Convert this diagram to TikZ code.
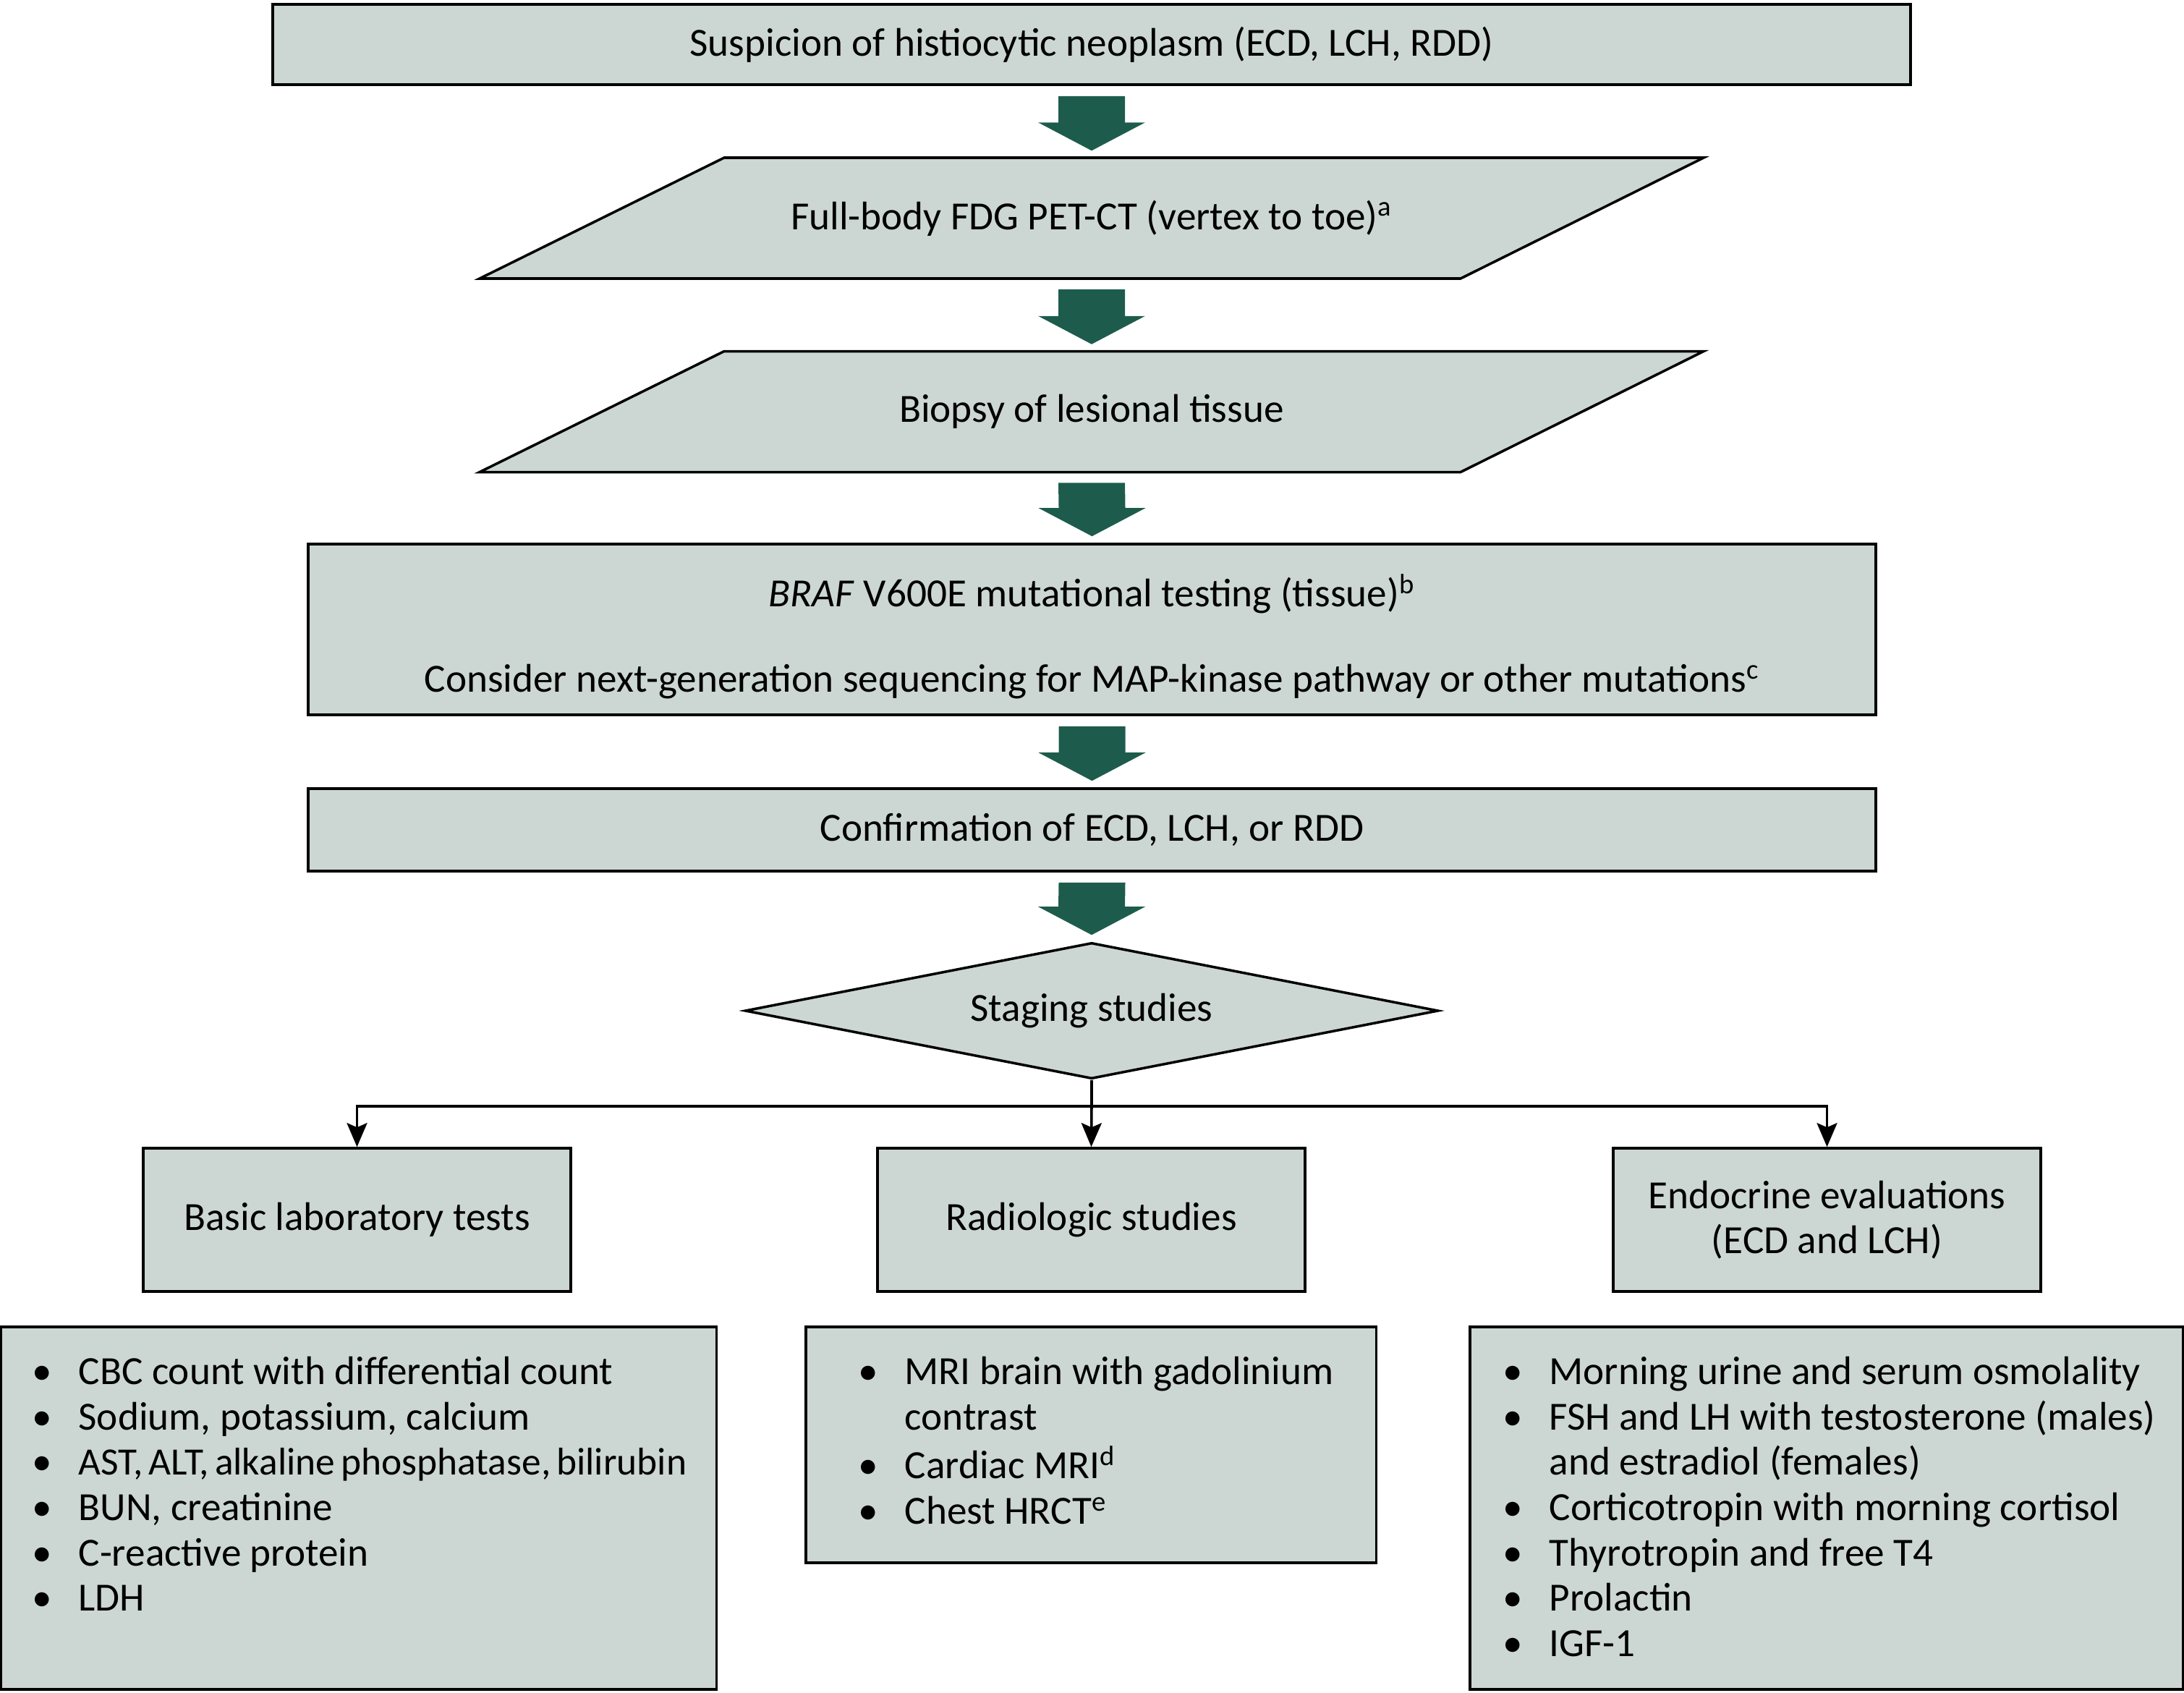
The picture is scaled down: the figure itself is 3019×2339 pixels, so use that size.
\documentclass[tikz,border=0pt]{standalone}
\usepackage{fontspec}
\setmainfont{Carlito}
\usetikzlibrary{positioning, shapes.geometric, arrows.meta, calc}
\definecolor{boxColor}{RGB}{204,215,211}
\definecolor{arrowColor}{RGB}{29,92,76}
\tikzstyle{chart} = [x = 0.01cm, y = -0.01cm, every node/.style={font=\fontsize{15.7}{17.8}\selectfont}]
\tikzstyle{boxLine} = [draw=black, fill=boxColor, line width=1pt]
\tikzstyle{stepBox} = [boxLine, rectangle, inner sep=0pt, align=center]
\tikzstyle{stageDiamond} = [boxLine, diamond, aspect=5, inner sep=0pt, minimum width=9.58cm, minimum height=1.88cm]
\tikzstyle{listText} = [anchor=north west, inner sep=0pt, align=left]
\tikzstyle{connector} = [line width=1pt, black]
\tikzstyle{connectorArrow} = [connector, -{Stealth[length=0.33cm, width=0.28cm, inset=0.06cm]}]
\tikzstyle{bigArrowStyle} = [fill=arrowColor]
\newcommand{\listItem}[1]{\strut\makebox[0.64cm][l]{\textbullet}#1}
\newcommand{\listMore}[1]{\strut\hspace*{0.64cm}#1}
% block arrow from one node down to the next
\newcommand{\bigArrow}[2]{\fill [bigArrowStyle] ($(#1.south) + (-46, 14)$) -- ($(#1.south) + (46, 14)$) -- ($(#2.north) + (46, -48)$) -- ($(#2.north) + (74, -48)$) -- ($(#2.north) + (0, -9)$) -- ($(#2.north) + (-74, -48)$) -- ($(#2.north) + (-46, -48)$) -- cycle;}
% slanted box with a named node in its middle
\newcommand{\slantBox}[4]{
  \filldraw [boxLine] (#2 - 846, #3 + 83.5) -- (#2 + 510, #3 + 83.5) -- (#2 + 846, #3 - 83.5) -- (#2 - 508, #3 - 83.5) -- cycle;
  \node [inner sep=0pt, minimum width=13.56cm, minimum height=1.67cm] (#1) at (#2, #3) {#4};
}
\begin{document}
\begin{tikzpicture}[chart]
  \useasboundingbox (0,0) rectangle (3019,2339);
  \node [stepBox, minimum width=22.63cm, minimum height=1.11cm] (suspicion) at (1509, 61.5) {Suspicion of histiocytic neoplasm (ECD, LCH, RDD)};
  \slantBox{fullBody}{1509}{301.5}{Full-body FDG PET-CT (vertex to toe)\textsuperscript{a}}
  \slantBox{biopsy}{1509}{569}{Biopsy of lesional tissue}
  \node [stepBox, minimum width=21.66cm, minimum height=2.36cm] (brafTest) at (1509.5, 870) {\rule{0pt}{18.5pt}\textit{BRAF} V600E mutational testing (tissue)\textsuperscript{b}\\[15.8pt] Consider next-generation sequencing for MAP-kinase pathway or other mutations\textsuperscript{c}};
  \node [stepBox, minimum width=21.66cm, minimum height=1.14cm] (confirm) at (1509.5, 1147) {Confirmation of ECD, LCH, or RDD};
  \node [stageDiamond] (staging) at (1509, 1397) {Staging studies};
  \coordinate (split) at (1509, 1529);

  \node [stepBox, minimum width=5.91cm, minimum height=1.98cm] (labTests) at (493.5, 1686) {Basic laboratory tests};
  \node [stepBox, minimum width=5.91cm, minimum height=1.98cm] (radioStudies) at (1508.5, 1686) {Radiologic studies};
  \node [stepBox, minimum width=5.91cm, minimum height=1.98cm] (endoEval) at (2525.5, 1686) {Endocrine evaluations\\(ECD and LCH)};

  \bigArrow{suspicion}{fullBody}
  \bigArrow{fullBody}{biopsy}
  \bigArrow{biopsy}{brafTest}
  \bigArrow{brafTest}{confirm}
  \bigArrow{confirm}{staging}

  \draw [connector] (staging.south) -- (split);
  \draw [connectorArrow] (split) -- (radioStudies.north);
  \draw [connectorArrow] (split) -| (labTests.north);
  \draw [connectorArrow] (split) -| (endoEval.north);

  % lists
  \node [stepBox, minimum width=9.88cm, minimum height=5.01cm] (labBox) at (496, 2084.5) {};
  \node [listText] (labList) at ($(labBox.north west) + (44, 37)$) {\listItem{CBC count with differential count}\\
    \listItem{Sodium, potassium, calcium}\\
    \listItem{{\fontsize{15.2}{17.8}\selectfont\spaceskip=0.15em AST, ALT, alkaline phosphatase, bilirubin}}\\
    \listItem{BUN, creatinine}\\
    \listItem{C-reactive protein}\\
    \listItem{LDH}};
  \node [stepBox, minimum width=7.88cm, minimum height=3.26cm] (radioBox) at (1508, 1997) {};
  \node [listText] (radioList) at ($(radioBox.north west) + (74, 37)$) {\listItem{MRI brain with gadolinium}\\
    \listMore{contrast}\\
    \listItem{Cardiac MRI\textsuperscript{d}}\\
    \listItem{Chest HRCT\textsuperscript{e}}};
  \node [stepBox, minimum width=9.85cm, minimum height=5.01cm] (endoBox) at (2524.5, 2084.5) {};
  \node [listText] (endoList) at ($(endoBox.north west) + (47, 37)$) {\listItem{Morning urine and serum osmolality}\\
    \listItem{FSH and LH with testosterone (males)}\\
    \listMore{and estradiol (females)}\\
    \listItem{Corticotropin with morning cortisol}\\
    \listItem{Thyrotropin and free T4}\\
    \listItem{Prolactin}\\
    \listItem{IGF-1}};
\end{tikzpicture}
\end{document}
